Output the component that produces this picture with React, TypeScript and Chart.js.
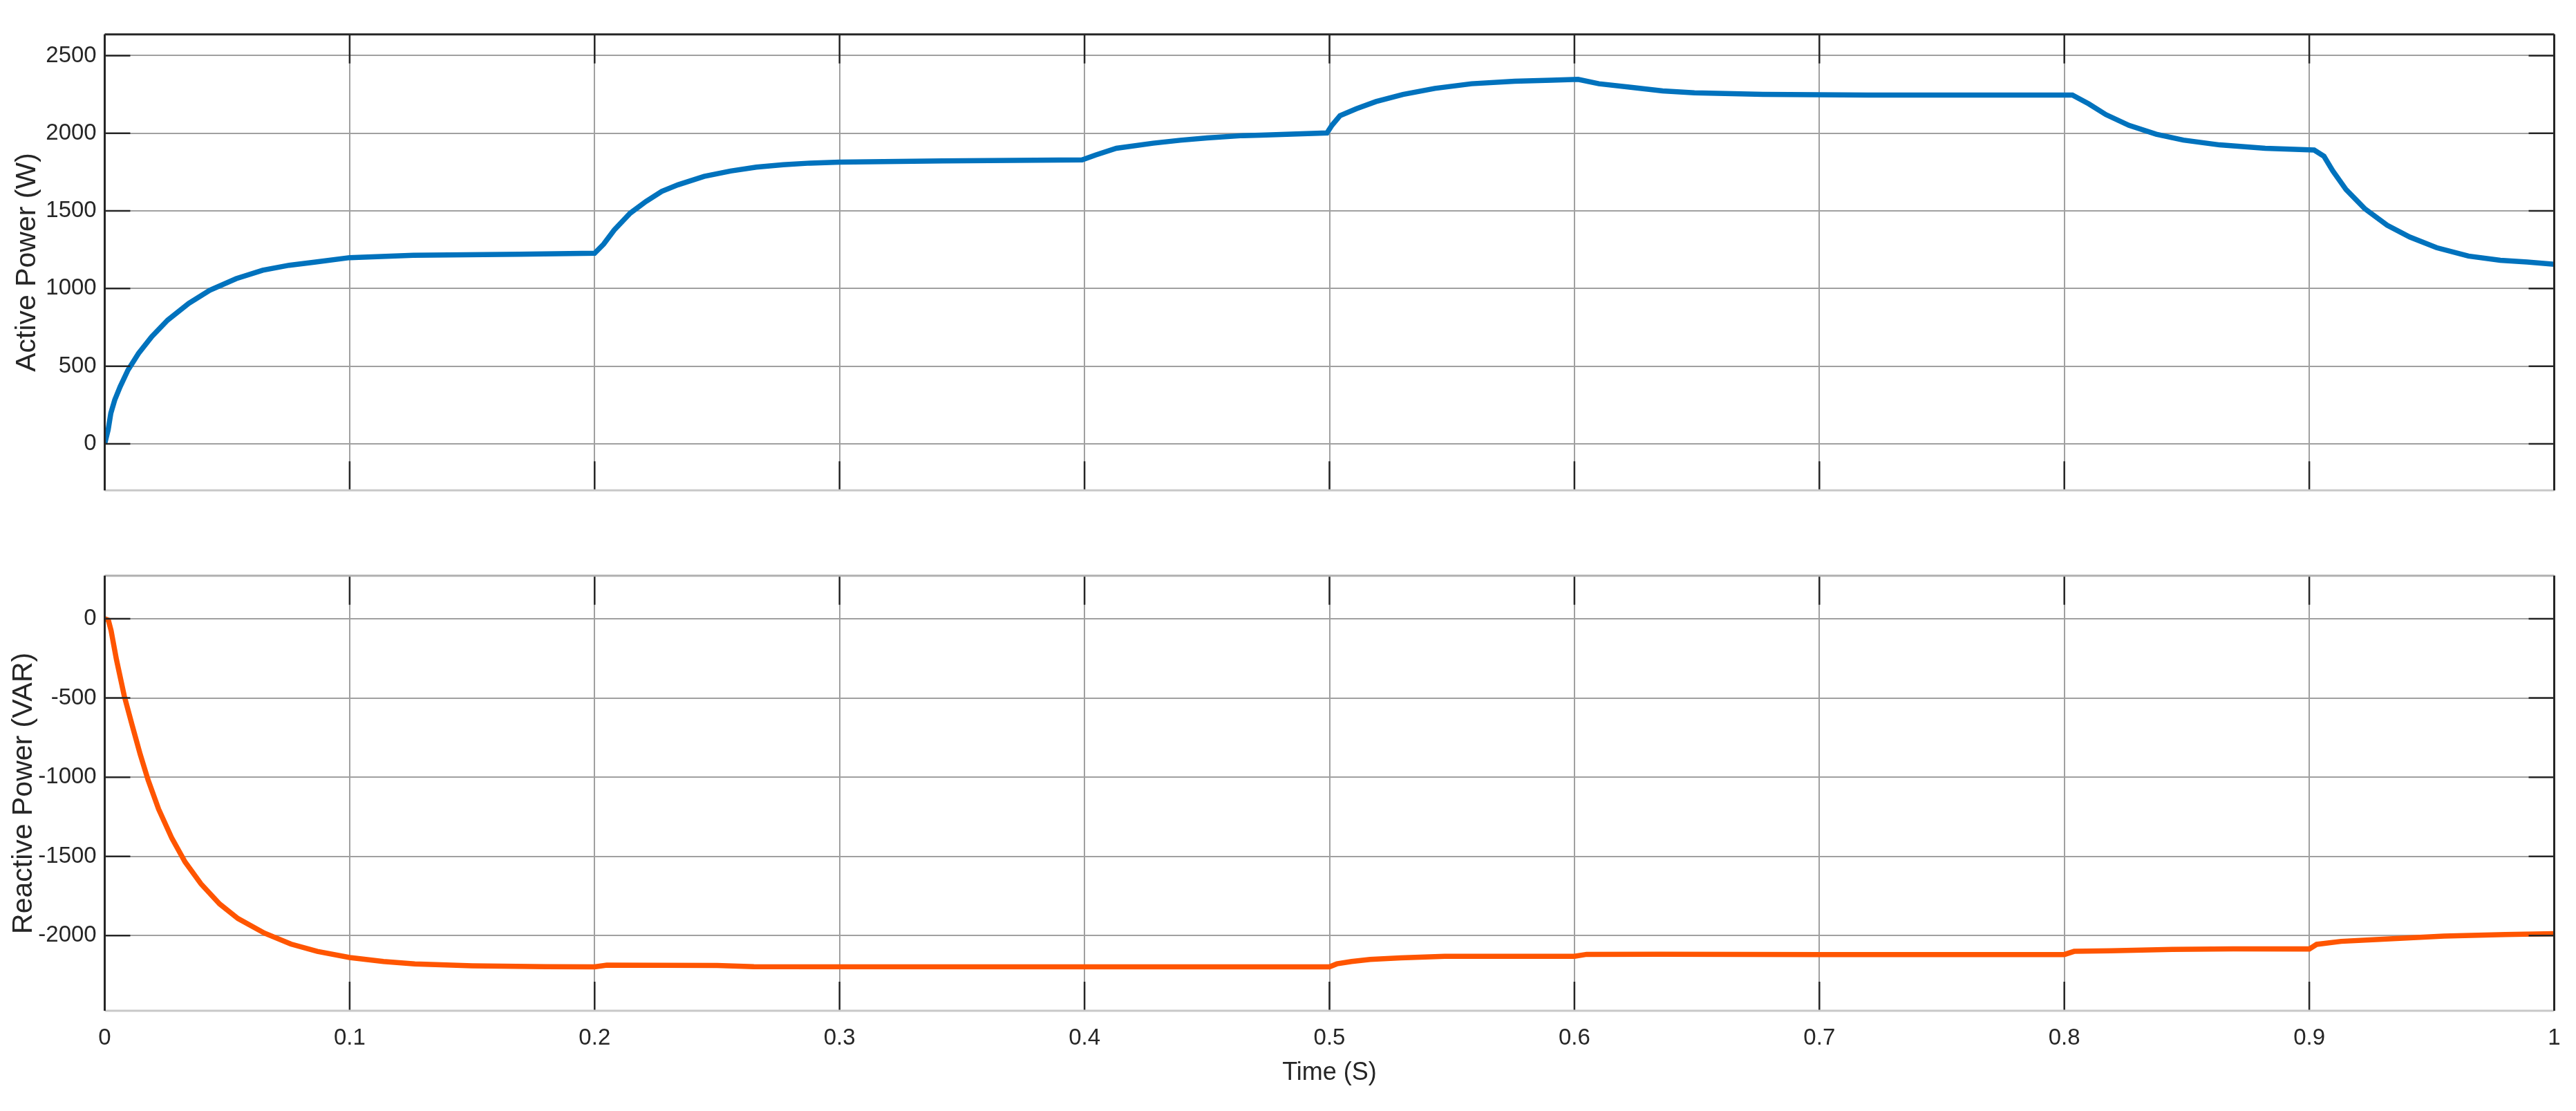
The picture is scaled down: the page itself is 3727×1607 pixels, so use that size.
import React, { useEffect, useRef } from "react";
import { Chart, registerables } from "chart.js";

Chart.register(...registerables);

// ---------------- data ----------------
const activeTime = [
  0, 0.0014, 0.0025, 0.0041, 0.0063, 0.0095, 0.0138, 0.0192, 0.0257, 0.0343, 0.0429, 0.0537,
  0.0645, 0.0753, 0.0861, 0.1, 0.126, 0.169, 0.2, 0.2037, 0.208, 0.2145, 0.221, 0.2274, 0.234,
  0.2447, 0.2555, 0.266, 0.277, 0.288, 0.3, 0.342, 0.399, 0.4045, 0.413, 0.428, 0.439, 0.45,
  0.4646, 0.472, 0.499, 0.501, 0.5043, 0.511, 0.519, 0.53, 0.543, 0.558, 0.5756, 0.5907, 0.6015,
  0.61, 0.623, 0.636, 0.649, 0.677, 0.72, 0.789, 0.8033, 0.81, 0.817, 0.8264, 0.8375, 0.8486,
  0.8634, 0.882, 0.902, 0.906, 0.9096, 0.915, 0.9226, 0.9318, 0.941, 0.952, 0.965, 0.978, 0.989, 1.0,
];
const activePower = [
  0, 90, 197, 283, 368, 475, 582, 690, 797, 904, 989, 1064,
  1118, 1150, 1171, 1199, 1214, 1221, 1227, 1286, 1377, 1485, 1561, 1626, 1668,
  1722, 1757, 1782, 1797, 1808, 1814, 1822, 1829, 1860, 1903, 1936, 1955, 1970,
  1985, 1988, 2002, 2051, 2113, 2158, 2204, 2250, 2289, 2319, 2335, 2342, 2347,
  2319, 2296, 2273, 2261, 2250, 2246, 2246, 2246, 2189, 2120, 2051, 1994, 1956,
  1925, 1903, 1892, 1852, 1758, 1638, 1515, 1408, 1332, 1263, 1209, 1182, 1171, 1156,
];
const reactiveTime = [
  0, 0.0015, 0.0026, 0.0048, 0.008, 0.0112, 0.0145, 0.0177, 0.022, 0.0274, 0.0328, 0.0393,
  0.0469, 0.0544, 0.0652, 0.076, 0.0868, 0.1, 0.1138, 0.1266, 0.15, 0.18, 0.2, 0.205, 0.25,
  0.265, 0.5, 0.503, 0.509, 0.5166, 0.529, 0.547, 0.6, 0.605, 0.635, 0.7, 0.8, 0.804, 0.819,
  0.844, 0.869, 0.9, 0.903, 0.913, 0.93, 0.955, 0.98, 1.0,
];
const reactivePower = [
  0, -9, -74, -258, -488, -672, -856, -1017, -1201, -1385, -1535, -1673,
  -1800, -1892, -1984, -2053, -2099, -2138, -2163, -2178, -2190, -2196, -2197, -2186, -2188,
  -2196, -2197, -2178, -2163, -2150, -2140, -2130, -2130, -2118, -2117, -2119, -2119, -2099, -2095,
  -2087, -2083, -2084, -2055, -2036, -2022, -2003, -1993, -1988,
];
const timeTicks = [0, 0.1, 0.2, 0.3, 0.4, 0.5, 0.6, 0.7, 0.8, 0.9, 1];
const activeTicks = [0, 500, 1000, 1500, 2000, 2500];
const reactiveTicks = [-2000, -1500, -1000, -500, 0];
const timeRange = [0, 1];
const activeRange = [-300, 2637];
const reactiveRange = [-2474, 272];

const xLabel = "Time (S)";
const activeLabel = "Active Power (W)";
const reactiveLabel = "Reactive Power (VAR)";

// ---------------- styles ----------------
const BLUE = "#0072BD";
const ORANGE = "#FF5500";
const GRID = "#a0a0a0";
const DARK = "#262626";
const TXT = "#262626";
const FAMILY = '"Liberation Sans", Arial, sans-serif';

function axesFrame(topDark: boolean) {
  return {
    id: "axesFrame",
    afterDraw(chart: any) {
      const { ctx, chartArea: a, scales } = chart;
      const xs = scales.x;
      const ys = scales.y;
      ctx.save();
      ctx.strokeStyle = DARK;
      ctx.lineWidth = 2.5;
      ctx.beginPath();
      for (const t of xs.ticks) {
        const px = xs.getPixelForValue(t.value);
        ctx.moveTo(px, a.top);
        ctx.lineTo(px, a.top + 42);
        ctx.moveTo(px, a.bottom);
        ctx.lineTo(px, a.bottom - 42);
      }
      for (const t of ys.ticks) {
        const py = ys.getPixelForValue(t.value);
        ctx.moveTo(a.left, py);
        ctx.lineTo(a.left + 37, py);
        ctx.moveTo(a.right, py);
        ctx.lineTo(a.right - 37, py);
      }
      ctx.stroke();
      ctx.lineWidth = 3;
      ctx.strokeStyle = "#c8c8c8";
      ctx.beginPath();
      ctx.moveTo(a.left, a.bottom);
      ctx.lineTo(a.right, a.bottom);
      ctx.stroke();
      ctx.strokeStyle = topDark ? DARK : "#b0b0b0";
      ctx.beginPath();
      ctx.moveTo(a.left, a.top);
      ctx.lineTo(a.right, a.top);
      ctx.stroke();
      ctx.strokeStyle = DARK;
      ctx.beginPath();
      ctx.moveTo(a.left, a.top);
      ctx.lineTo(a.left, a.bottom);
      ctx.moveTo(a.right, a.top);
      ctx.lineTo(a.right, a.bottom);
      ctx.stroke();
      ctx.restore();
    },
  };
}

interface Cfg {
  times: number[];
  values: number[];
  color: string;
  yTicks: number[];
  yRange: number[];
  yLabel: string;
  yTitlePad: number;
  showX: boolean;
  topDark: boolean;
  padTop: number;
  padBottom: number;
  xHeight: number;
}

function makeChart(canvas: HTMLCanvasElement, c: Cfg) {
  const tickSize = 33;
  const xTitleSize = 36;
  return new Chart(canvas, {
    type: "line",
    data: {
      datasets: [
        {
          data: c.times.map((t, i) => ({ x: t, y: c.values[i] })),
          borderColor: c.color,
          backgroundColor: c.color,
          borderWidth: 7.5,
          pointRadius: 0,
          tension: 0,
          fill: false,
        },
      ],
    },
    options: {
      animation: false,
      responsive: false,
      maintainAspectRatio: false,
      devicePixelRatio: 1,
      events: [],
      layout: { padding: { top: c.padTop, right: 31.5, bottom: c.padBottom, left: 0 } },
      plugins: { legend: { display: false }, tooltip: { enabled: false }, title: { display: false } },
      scales: {
        x: {
          type: "linear",
          min: timeRange[0],
          max: timeRange[1],
          afterBuildTicks: (s: any) => {
            s.ticks = timeTicks.map((v) => ({ value: v }));
          },
          afterFit: (s: any) => {
            s.height = c.xHeight;
            s.paddingLeft = 0;
            s.paddingRight = 0;
            s.paddingTop = 0;
            s.paddingBottom = 0;
          },
          grid: { color: GRID, lineWidth: 2, drawTicks: false },
          border: { display: false },
          ticks: {
            display: c.showX,
            padding: 20.2,
            color: TXT,
            maxRotation: 0,
            autoSkip: false,
            font: { family: FAMILY, size: tickSize },
            callback: (v: any) => String(v),
          },
          title: {
            display: c.showX,
            text: xLabel,
            color: TXT,
            font: { family: FAMILY, size: xTitleSize },
            padding: { top: 0, bottom: 33.4 },
          },
        },
        y: {
          type: "linear",
          min: c.yRange[0],
          max: c.yRange[1],
          afterBuildTicks: (s: any) => {
            s.ticks = c.yTicks.map((v) => ({ value: v }));
          },
          afterFit: (s: any) => {
            s.width = 151.5;
            s.paddingTop = 0;
            s.paddingBottom = 0;
            s.paddingLeft = 0;
            s.paddingRight = 0;
          },
          grid: { color: GRID, lineWidth: 2, drawTicks: false },
          border: { display: false },
          ticks: {
            padding: 11.8,
            color: TXT,
            autoSkip: false,
            font: { family: FAMILY, size: tickSize },
            callback: (v: any) => String(v),
          },
          title: {
            display: true,
            text: c.yLabel,
            color: TXT,
            font: { family: FAMILY, size: 41 },
            padding: { top: c.yTitlePad, bottom: 0 },
          },
        },
      },
    },
    plugins: [axesFrame(c.topDark)],
  } as any);
}

export default function App() {
  const topRef = useRef<HTMLCanvasElement>(null);
  const botRef = useRef<HTMLCanvasElement>(null);

  useEffect(() => {
    const top = makeChart(topRef.current!, {
      times: activeTime,
      values: activePower,
      color: BLUE,
      yTicks: activeTicks,
      yRange: activeRange,
      yLabel: activeLabel,
      yTitlePad: 14.6,
      showX: false,
      topDark: true,
      padTop: 49.7,
      padBottom: 50.7,
      xHeight: 0,
    });
    const bot = makeChart(botRef.current!, {
      times: reactiveTime,
      values: reactivePower,
      color: ORANGE,
      yTicks: reactiveTicks,
      yRange: reactiveRange,
      yLabel: reactiveLabel,
      yTitlePad: 9.8,
      showX: true,
      topDark: false,
      padTop: 72.7,
      padBottom: 0,
      xHeight: 145,
    });
    return () => {
      top.destroy();
      bot.destroy();
    };
  }, []);

  return (
    <div style={{ position: "absolute", left: 0, top: 0, width: 3727, height: 1607, background: "#fff", overflow: "hidden" }}>
      <canvas ref={topRef} width={3727} height={760} style={{ position: "absolute", left: 0, top: 0, width: 3727, height: 760 }} />
      <canvas ref={botRef} width={3727} height={847} style={{ position: "absolute", left: 0, top: 760, width: 3727, height: 847 }} />
    </div>
  );
}
